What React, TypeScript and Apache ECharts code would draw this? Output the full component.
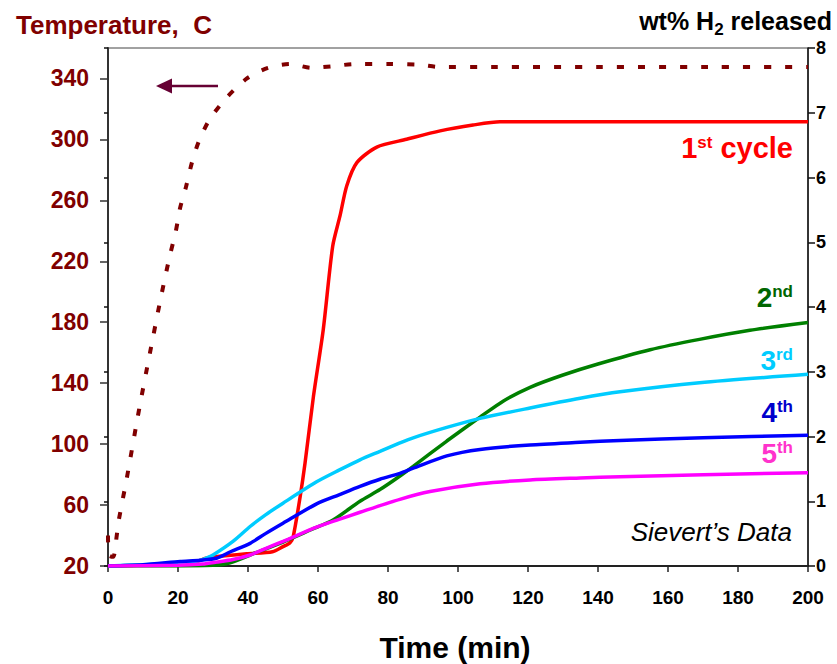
import React, { useEffect, useRef } from "react";
import * as echarts from "echarts";

// Furnace temperature (left axis, °C) versus time (min)
const tempTime = [0, 0.3, 1.5, 2.5, 3, 5.4, 8.9, 12, 15, 17.5, 19.4, 20.6, 22.3, 24, 26, 29, 33.7, 39.7, 45.7, 52, 58, 64, 70.6, 80, 89, 95, 110, 140, 170, 200];
const tempC = [40, 27, 26, 40, 49, 78, 123, 160, 195, 222, 240, 255, 269, 285, 299, 313, 327, 340, 347, 349.5, 347, 348, 349.5, 349.5, 349, 347.5, 347.5, 347.5, 347.5, 347.5];

// Hydrogen released (right axis, wt%) for each cycle
const c1Time = [0, 20, 25, 28, 30, 39.6, 47, 50, 52, 52.9, 54.9, 56.3, 58.7, 61.5, 64.2, 66.3, 68.2, 71.1, 76.8, 85.3, 94.9, 104.3, 112, 200];
const c1Wt = [0, 0.03, 0.06, 0.12, 0.14, 0.19, 0.22, 0.3, 0.36, 0.45, 1.07, 1.59, 2.62, 3.65, 4.94, 5.41, 5.87, 6.23, 6.47, 6.59, 6.72, 6.81, 6.86, 6.86];

const c2Time = [0, 20, 30, 34.9, 42.5, 50, 58, 64.3, 72, 77.7, 82.9, 87.2, 96.8, 106.3, 113, 120.6, 130, 140, 154.9, 169, 183.4, 200];
const c2Wt = [0, 0, 0.01, 0.05, 0.21, 0.37, 0.56, 0.71, 1.0, 1.18, 1.37, 1.54, 1.93, 2.3, 2.55, 2.76, 2.95, 3.12, 3.34, 3.5, 3.64, 3.76];

const c3Time = [0, 10, 20, 26, 28, 30, 35.7, 40.6, 45, 50, 59.6, 66, 72, 77.7, 83.4, 87.2, 96.8, 106.3, 120.6, 134.9, 146.3, 169, 200];
const c3Wt = [0, 0.02, 0.05, 0.08, 0.12, 0.17, 0.38, 0.61, 0.79, 0.97, 1.3, 1.48, 1.64, 1.77, 1.9, 1.98, 2.14, 2.28, 2.44, 2.59, 2.69, 2.83, 2.96];

const c4Time = [0, 10, 20.6, 26.3, 31, 35, 40.6, 45, 50, 59.6, 66, 72, 77.7, 83.4, 87.2, 96.8, 106.3, 120.6, 134.9, 146.3, 170, 200];
const c4Wt = [0, 0.02, 0.07, 0.09, 0.12, 0.22, 0.35, 0.5, 0.66, 0.96, 1.1, 1.23, 1.34, 1.43, 1.51, 1.7, 1.8, 1.87, 1.91, 1.94, 1.98, 2.02];

const c5Time = [0, 20, 27, 31, 35.7, 40.6, 45, 50, 59.6, 66, 72, 83.4, 92, 106.3, 120.6, 134.9, 146.3, 170, 200];
const c5Wt = [0, 0.01, 0.03, 0.06, 0.1, 0.17, 0.27, 0.38, 0.6, 0.72, 0.83, 1.03, 1.15, 1.27, 1.33, 1.36, 1.38, 1.41, 1.44];

// Axis ticks
const timeTicks = [0, 20, 40, 60, 80, 100, 120, 140, 160, 180, 200];
const tempTicks = [20, 60, 100, 140, 180, 220, 260, 300, 340];
const wtTicks = [0, 1, 2, 3, 4, 5, 6, 7, 8];

const FONT = "'Liberation Sans', Arial, Helvetica, sans-serif";
const DARK_RED = "#800000";

const pairs = (xs: number[], ys: number[]) => xs.map((x, i) => [x, ys[i]]);

const cycleSeries = (name: string, xs: number[], ys: number[], color: string) => ({
  name,
  type: "line",
  xAxisIndex: 0,
  yAxisIndex: 1,
  data: pairs(xs, ys),
  showSymbol: false,
  smooth: 0.25,
  lineStyle: { color, width: 3.5 },
  z: 3,
});

const ordinal = (num: string, sup: string, color: string, x: number, y: number) => ({
  type: "text",
  x,
  y,
  z: 10,
  style: {
    text: `{n|${num}}{s|${sup}}`,
    align: "right",
    verticalAlign: "middle",
    rich: {
      n: { fontSize: 28, fontWeight: "bold", fontFamily: FONT, fill: color, color, lineHeight: 28, verticalAlign: "middle" },
      s: { fontSize: 17, fontWeight: "bold", fontFamily: FONT, fill: color, color, lineHeight: 17, verticalAlign: "top" },
    },
  },
});

export default function App() {
  const ref = useRef<HTMLDivElement>(null);

  useEffect(() => {
    if (!ref.current) return;
    const chart = echarts.init(ref.current, null, { renderer: "svg" });
    chart.setOption({
      animation: false,
      backgroundColor: "#ffffff",
      grid: {
        left: 108,
        right: 29,
        top: 48,
        bottom: 98,
        show: true,
        borderColor: "#444",
        borderWidth: 1,
        containLabel: false,
      },
      xAxis: {
        type: "value",
        min: 0,
        max: 200,
        interval: 20,
        splitLine: { show: false },
        axisLine: { show: true, onZero: false, lineStyle: { color: "#222", width: 2 } },
        axisTick: { show: true, inside: false, length: 6, lineStyle: { color: "#222", width: 1.5 }, customValues: timeTicks },
        axisLabel: {
          customValues: timeTicks,
          margin: 22,
          color: "#000",
          fontSize: 19,
          fontWeight: "bold",
          fontFamily: FONT,
        },
      },
      yAxis: [
        {
          type: "value",
          position: "left",
          min: 20,
          max: 360,
          interval: 40,
          splitLine: { show: false },
          axisLine: { show: true, onZero: false, lineStyle: { color: "#333", width: 2 } },
          axisTick: { show: true, inside: false, length: 8, lineStyle: { color: "#333", width: 1.5 }, customValues: tempTicks },
          axisLabel: {
            customValues: tempTicks,
            margin: 19,
            color: DARK_RED,
            fontSize: 23,
            fontWeight: "bold",
            fontFamily: FONT,
          },
        },
        {
          type: "value",
          position: "right",
          min: 0,
          max: 8,
          interval: 1,
          splitLine: { show: false },
          axisLine: { show: true, onZero: false, lineStyle: { color: "#111", width: 1.5 } },
          axisTick: { show: true, inside: false, length: 7, lineStyle: { color: "#111", width: 1.5 }, customValues: wtTicks },
          axisLabel: {
            customValues: wtTicks,
            margin: 8,
            color: "#000",
            fontSize: 18,
            fontWeight: "bold",
            fontFamily: FONT,
          },
        },
        {
          // inner half of the crossing ticks on the right axis
          type: "value",
          position: "right",
          min: 0,
          max: 8,
          interval: 1,
          splitLine: { show: false },
          axisLine: { show: false },
          axisTick: { show: true, inside: true, length: 4, lineStyle: { color: "#111", width: 1.5 } },
          axisLabel: { show: false },
        },
      ],
      series: [
        {
          name: "Temperature",
          type: "line",
          xAxisIndex: 0,
          yAxisIndex: 0,
          data: pairs(tempTime, tempC),
          showSymbol: false,
          smooth: 0.25,
          lineStyle: { color: DARK_RED, width: 4, type: [7, 14] },
          z: 2,
        },
        cycleSeries("1st cycle", c1Time, c1Wt, "#ff0000"),
        cycleSeries("2nd", c2Time, c2Wt, "#008000"),
        cycleSeries("3rd", c3Time, c3Wt, "#00ccff"),
        cycleSeries("4th", c4Time, c4Wt, "#0000ff"),
        cycleSeries("5th", c5Time, c5Wt, "#ff00ff"),
      ],
      graphic: [
        {
          type: "text",
          x: 16,
          y: 24.5,
          style: {
            text: "Temperature,  C",
            fill: DARK_RED,
            font: `bold 26px ${FONT}`,
            align: "left",
            verticalAlign: "middle",
          },
        },
        {
          type: "text",
          x: 832,
          y: 21,
          style: {
            text: "{a|wt% H}{b|2}{a| released}",
            align: "right",
            verticalAlign: "middle",
            rich: {
              a: { fontSize: 25, fontWeight: "bold", fontFamily: FONT, fill: "#000", color: "#000", lineHeight: 25, verticalAlign: "top" },
              b: { fontSize: 17, fontWeight: "bold", fontFamily: FONT, fill: "#000", color: "#000", lineHeight: 17, verticalAlign: "top", padding: [12, 0, 0, 0] },
            },
          },
        },
        {
          type: "text",
          x: 455,
          y: 647,
          style: {
            text: "Time (min)",
            fill: "#000",
            font: `bold 30px ${FONT}`,
            align: "center",
            verticalAlign: "middle",
          },
        },
        {
          type: "text",
          x: 792,
          y: 532,
          style: {
            text: "Sievert\u2019s Data",
            fill: "#000",
            font: `italic 26px ${FONT}`,
            align: "right",
            verticalAlign: "middle",
          },
        },
        {
          type: "text",
          x: 793,
          y: 148,
          z: 10,
          style: {
            text: "{n|1}{s|st}{n| cycle}",
            align: "right",
            verticalAlign: "middle",
            rich: {
              n: { fontSize: 29, fontWeight: "bold", fontFamily: FONT, fill: "#ff0000", color: "#ff0000", lineHeight: 29, verticalAlign: "middle" },
              s: { fontSize: 17, fontWeight: "bold", fontFamily: FONT, fill: "#ff0000", color: "#ff0000", lineHeight: 17, verticalAlign: "top" },
            },
          },
        },
        ordinal("2", "nd", "#006600", 793, 297),
        ordinal("3", "rd", "#00ccff", 793, 360),
        ordinal("4", "th", "#0000cc", 793, 412),
        ordinal("5", "th", "#ff33cc", 793, 453),
        {
          type: "line",
          shape: { x1: 218, y1: 86, x2: 170, y2: 86 },
          style: { stroke: "#660033", lineWidth: 2.5 },
        },
        {
          type: "polygon",
          shape: { points: [[156, 86], [172, 78.5], [172, 93.5]] },
          style: { fill: "#660033" },
        },
      ],
    });
    return () => chart.dispose();
  }, []);

  return (
    <div
      ref={ref}
      style={{ position: "fixed", left: 0, top: 0, width: 837, height: 664, background: "#fff" }}
    />
  );
}
